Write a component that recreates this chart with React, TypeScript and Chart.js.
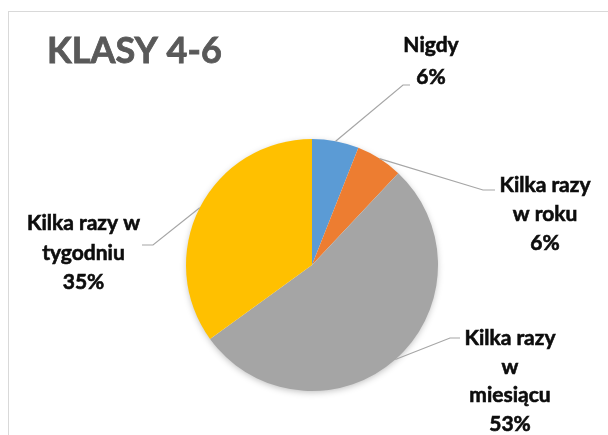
import React, { useEffect, useRef } from "react";
import { Chart, registerables } from "chart.js";

Chart.register(...registerables);

const title = "KLASY 4-6";
const categories = ["Nigdy", "Kilka razy w roku", "Kilka razy w miesiącu", "Kilka razy w tygodniu"];
const values = [6, 6, 53, 35];
const colors = ["#5B9BD5", "#ED7D31", "#A5A5A5", "#FFC000"];
const labelLines = [["Nigdy"], ["Kilka razy", "w roku"], ["Kilka razy", "w", "miesiącu"], ["Kilka razy w", "tygodniu"]];

// label layout: text centre x, first baseline, line step, elbow and end of leader line
const labelLayout = [
  { x: 431, y: 52, step: 32, elbow: [403, 85], end: [410, 85] },
  { x: 545, y: 192, step: 29, elbow: [483, 190], end: [495, 190] },
  { x: 510, y: 345, step: 28.5, elbow: [450, 338], end: [460, 338] },
  { x: 83.5, y: 230, step: 29.5, elbow: [153, 245], end: [142, 245] },
];

const FONT = "Lato, 'Open Sans', sans-serif";

const decorPlugin = {
  id: "decor",
  beforeDraw(chart: any) {
    const ctx = chart.ctx;
    ctx.save();
    ctx.fillStyle = "#ffffff";
    ctx.fillRect(0, 0, chart.width, chart.height);
    ctx.strokeStyle = "#d9d9d9";
    ctx.lineWidth = 1;
    ctx.strokeRect(8.5, 11.5, 800, 600);
    ctx.fillStyle = "#595959";
    ctx.strokeStyle = "#595959";
    ctx.lineWidth = 0.8;
    ctx.font = `bold 36px ${FONT}`;
    ctx.textAlign = "left";
    ctx.textBaseline = "alphabetic";
    ctx.fillText(title, 47, 63);
    ctx.strokeText(title, 47, 63);
    ctx.restore();
  },
  beforeDatasetsDraw(chart: any) {
    const meta = chart.getDatasetMeta(0);
    const arc = meta.data[0];
    if (!arc) return;
    const { x, y, outerRadius } = arc.getProps(["x", "y", "outerRadius"], true);
    const ctx = chart.ctx;
    ctx.save();
    ctx.shadowColor = "rgba(0,0,0,0.28)";
    ctx.shadowBlur = 7;
    ctx.shadowOffsetY = 2;
    ctx.fillStyle = "#ffffff";
    ctx.beginPath();
    ctx.arc(x, y, outerRadius - 1, 0, Math.PI * 2);
    ctx.fill();
    ctx.restore();
  },
  afterDatasetsDraw(chart: any) {
    const ctx = chart.ctx;
    const meta = chart.getDatasetMeta(0);
    const total = values.reduce((a, b) => a + b, 0);
    meta.data.forEach((el: any, i: number) => {
      const p = el.getProps(["x", "y", "startAngle", "endAngle", "outerRadius"], true);
      const mid = (p.startAngle + p.endAngle) / 2;
      const sx = p.x + Math.cos(mid) * p.outerRadius;
      const sy = p.y + Math.sin(mid) * p.outerRadius;
      const L = labelLayout[i];
      ctx.save();
      ctx.strokeStyle = "#a6a6a6";
      ctx.lineWidth = 1.2;
      ctx.beginPath();
      ctx.moveTo(sx, sy);
      ctx.lineTo(L.elbow[0], L.elbow[1]);
      ctx.lineTo(L.end[0], L.end[1]);
      ctx.stroke();
      ctx.fillStyle = "#0d0d0d";
      ctx.strokeStyle = "#0d0d0d";
      ctx.lineWidth = 0.6;
      ctx.font = `bold 21px ${FONT}`;
      ctx.textAlign = "center";
      ctx.textBaseline = "alphabetic";
      const lines = [...labelLines[i], Math.round((values[i] / total) * 100) + "%"];
      lines.forEach((t, k) => {
        ctx.fillText(t, L.x, L.y + k * L.step);
        ctx.strokeText(t, L.x, L.y + k * L.step);
      });
      ctx.restore();
    });
  },
};

export default function App() {
  const ref = useRef<HTMLCanvasElement>(null);
  useEffect(() => {
    if (!ref.current) return;
    const chart = new Chart(ref.current, {
      type: "pie",
      data: {
        labels: categories,
        datasets: [
          {
            data: values,
            backgroundColor: colors,
            borderWidth: 0,
          },
        ],
      },
      options: {
        responsive: false,
        animation: false,
        layout: { padding: { left: 186, right: 170, top: 139, bottom: 44 } },
        plugins: {
          legend: { display: false },
          tooltip: { enabled: false },
          title: { display: false },
        },
      },
      plugins: [decorPlugin],
    });
    return () => chart.destroy();
  }, []);
  return (
    <div style={{ position: "absolute", left: 0, top: 0, width: 608, height: 435, background: "#fff" }}>
      <canvas ref={ref} width={608} height={435} style={{ display: "block" }} />
    </div>
  );
}
